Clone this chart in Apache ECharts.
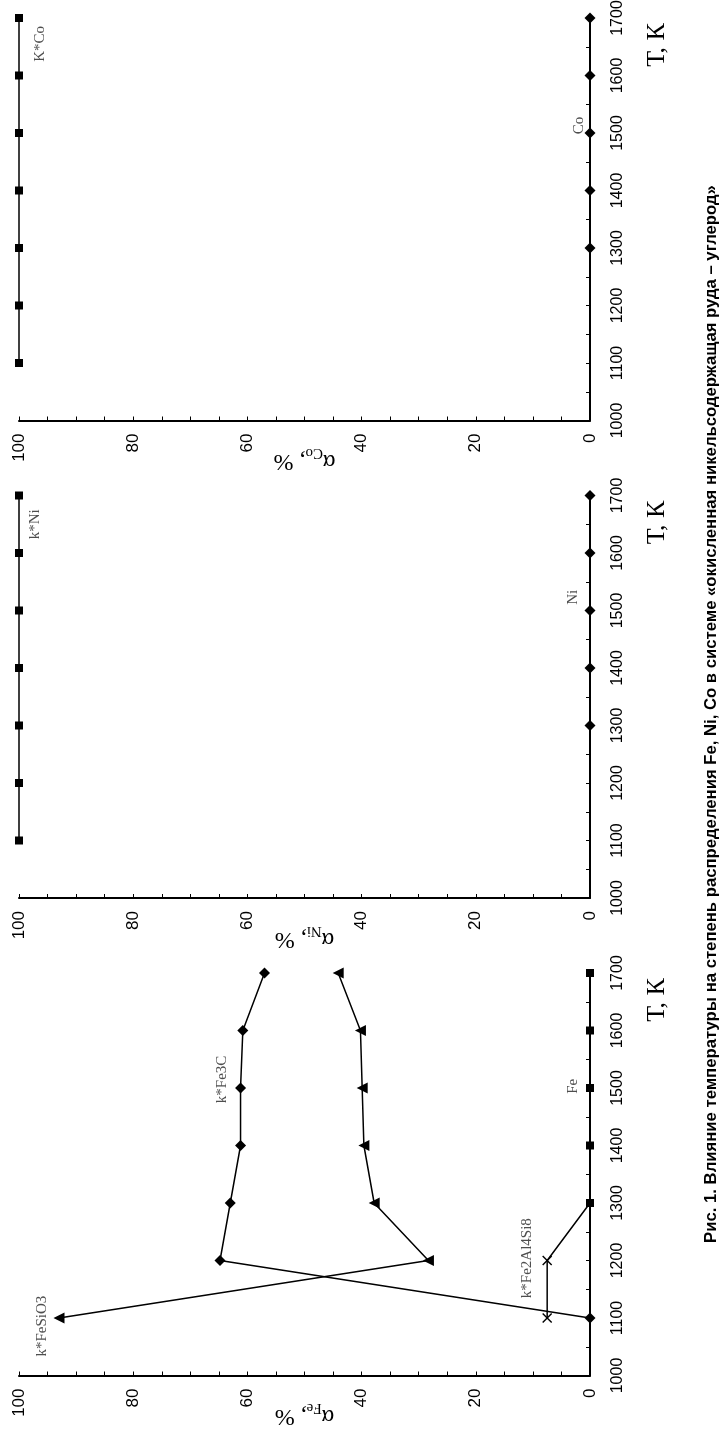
<!DOCTYPE html>
<html>
<head>
<meta charset="utf-8">
<script src="https://cdn.jsdelivr.net/npm/echarts@6/dist/echarts.min.js"></script>
<style>
html,body{margin:0;padding:0;background:#fff;}
#c{width:722px;height:1430px;}
</style>
</head>
<body>
<div id="c"></div>
<script>
// ---------- data ----------
const temps = [1100, 1200, 1300, 1400, 1500, 1600, 1700];
// Fe panel
const feSiO3 = [93.0, 28.3, 37.8, 39.6, 39.9, 40.2, 44.1];       // k*FeSiO3 (triangles)
const fe3C = [0, 64.8, 63.0, 61.2, 61.2, 60.8, 57.0];            // k*Fe3C (diamonds)
const fe2Al4Si8Temps = [1100, 1200, 1300];
const fe2Al4Si8 = [7.5, 7.5, 0];                                 // k*Fe2Al4Si8 (crosses)
const feMetalTemps = [1300, 1400, 1500, 1600, 1700];
const feMetal = [0, 0, 0, 0, 0];                                 // Fe (squares)
// Ni panel
const kNi = [100, 100, 100, 100, 100, 100, 100];                 // k*Ni (squares)
const niTemps = [1300, 1400, 1500, 1600, 1700];
const ni = [0, 0, 0, 0, 0];                                      // Ni (diamonds)
// Co panel
const kCo = [100, 100, 100, 100, 100, 100, 100];                 // K*Co (squares)
const coTemps = [1300, 1400, 1500, 1600, 1700];
const co = [0, 0, 0, 0, 0];                                      // Co (diamonds)

// series labels: [text, value %, temperature K]
const labelsFe = [['k*FeSiO3', 96, 1086], ['k*Fe2Al4Si8', 11, 1204], ['k*Fe3C', 64.5, 1515], ['Fe', 3, 1503]];
const labelsNi = [['k*Ni', 97.2, 1650], ['Ni', 3, 1523]];
const labelsCo = [['K*Co', 96.3, 1655], ['Co', 1.9, 1513]];

const axisElements = ['Co', 'Ni', 'Fe'];
const tempAxisTitle = 'Т, К';
const caption = 'Рис. 1. Влияние температуры на степень распределения Fe, Ni, Co в системе «окисленная никельсодержащая руда – углерод»';

// ---------- layout ----------
const PANEL_TOP = 18, PANEL_STEP = 477.5, PANEL_H = 402.5, GRID_LEFT = 19, GRID_RIGHT = 132;
const SANS = '"Liberation Sans", Arial, sans-serif';
const SERIF = '"Liberation Serif", "Times New Roman", serif';
const CAPTION_START = 1243, CAPTION_END = 185;

const pairs = (ts, vs) => ts.map((t, i) => [vs[i], t]);

const grids = [], xAxes = [], yAxes = [], series = [];
axisElements.forEach((el, i) => {
  grids.push({left: GRID_LEFT, right: GRID_RIGHT, top: PANEL_TOP + i * PANEL_STEP, height: PANEL_H,
              containLabel: false, outerBoundsMode: 'none'});
  xAxes.push({
    gridIndex: i, type: 'value', min: 0, max: 100, interval: 20, inverse: true, position: 'bottom',
    axisLine: {show: true, onZero: false, lineStyle: {color: '#000', width: 2}},
    axisTick: {show: true, inside: true, length: 4, lineStyle: {color: '#000', width: 1}},
    minorTick: {show: true, splitNumber: 4, length: 4, lineStyle: {color: '#000', width: 1}},
    splitLine: {show: false}, minorSplitLine: {show: false},
    axisLabel: {rotate: 90, margin: 13, fontSize: 17, color: '#000', fontFamily: SANS,
                formatter: v => String(v)},
    name: '{a|α}{s|' + el + '}{a|, %}',
    nameLocation: 'middle', nameGap: 25, nameRotate: 180, nameMoveOverlap: false,
    nameTextStyle: {color: '#000', fontFamily: SERIF,
      rich: {a: {fontSize: 24, fontFamily: SERIF, color: '#000', padding: [0, 0, 4, 0]},
             s: {fontSize: 15, fontFamily: SERIF, color: '#000', verticalAlign: 'bottom'}}}
  });
  yAxes.push({
    gridIndex: i, type: 'value', min: 1000, max: 1700, interval: 100, position: 'right',
    axisLine: {show: true, onZero: false, lineStyle: {color: '#000', width: 2}},
    axisTick: {show: true, inside: true, length: 4, lineStyle: {color: '#000', width: 1}},
    minorTick: {show: true, splitNumber: 2, length: 4, lineStyle: {color: '#000', width: 1}},
    splitLine: {show: false}, minorSplitLine: {show: false},
    axisLabel: {rotate: 90, margin: 20, fontSize: 16, color: '#000', fontFamily: SANS,
                formatter: v => String(v)}
  });
});

const CROSS = 'path://M0,1 L1,0 L5,4 L9,0 L10,1 L6,5 L10,9 L9,10 L5,6 L1,10 L0,9 L4,5 Z';
function line(idx, name, data, symbol, size, extra) {
  return Object.assign({
    type: 'line', name: name, xAxisIndex: idx, yAxisIndex: idx, data: data,
    symbol: symbol, symbolSize: size, showSymbol: true, clip: false, animation: false,
    lineStyle: {color: '#000', width: 1.5}, itemStyle: {color: '#000'}, z: 3
  }, extra || {});
}
function labelSeries(idx, arr) {
  return {
    type: 'scatter', xAxisIndex: idx, yAxisIndex: idx, silent: true, clip: false, animation: false,
    symbol: 'circle', symbolSize: 1, itemStyle: {color: 'rgba(0,0,0,0)'},
    data: arr.map(a => ({name: a[0], value: [a[1], a[2]]})),
    label: {show: true, position: 'inside', rotate: 90, formatter: p => p.name,
            color: '#222', fontFamily: SERIF, fontSize: 15}
  };
}

// Co panel (grid 0)
series.push(line(0, 'K*Co', pairs(temps, kCo), 'rect', 8));
series.push(line(0, 'Co', pairs(coTemps, co), 'diamond', 11));
series.push(labelSeries(0, labelsCo));
// Ni panel (grid 1)
series.push(line(1, 'k*Ni', pairs(temps, kNi), 'rect', 8));
series.push(line(1, 'Ni', pairs(niTemps, ni), 'diamond', 11));
series.push(labelSeries(1, labelsNi));
// Fe panel (grid 2)
series.push(line(2, 'k*FeSiO3', pairs(temps, feSiO3), 'triangle', 11, {symbolRotate: 90}));
series.push(line(2, 'k*Fe3C', pairs(temps, fe3C), 'diamond', 11));
const crossData = pairs(fe2Al4Si8Temps, fe2Al4Si8).map((d, i) => i === 2 ? {value: d, symbol: 'none'} : d);
series.push(line(2, 'k*Fe2Al4Si8', crossData, CROSS, 10));
series.push(line(2, 'Fe', pairs(feMetalTemps, feMetal), 'rect', 8, {z: 4}));
series.push(labelSeries(2, labelsFe));

// caption font size chosen so that the caption spans the same length as in the figure
const ctx = document.createElement('canvas').getContext('2d');
ctx.font = 'bold 100px ' + SANS;
const capSize = Math.round(100 * (CAPTION_START - CAPTION_END) / ctx.measureText(caption).width * 10) / 10;

const graphic = axisElements.map((el, i) => ({
  type: 'text', x: 657, y: PANEL_TOP + i * PANEL_STEP + 27, rotation: Math.PI / 2,
  style: {text: tempAxisTitle, font: '26px ' + SERIF, fill: '#000', align: 'center', verticalAlign: 'middle',
          textAlign: 'center', textVerticalAlign: 'middle'}
}));
graphic.push({
  type: 'text', x: 711, y: (CAPTION_START + CAPTION_END) / 2, rotation: Math.PI / 2,
  style: {text: caption, font: 'bold ' + capSize + 'px ' + SANS, fill: '#000', align: 'center', verticalAlign: 'middle',
          textAlign: 'center', textVerticalAlign: 'middle'}
});

const chart = echarts.init(document.getElementById('c'), null, {renderer: 'canvas'});
chart.setOption({
  animation: false,
  backgroundColor: '#fff',
  grid: grids, xAxis: xAxes, yAxis: yAxes, series: series, graphic: graphic
});
</script>
</body>
</html>
